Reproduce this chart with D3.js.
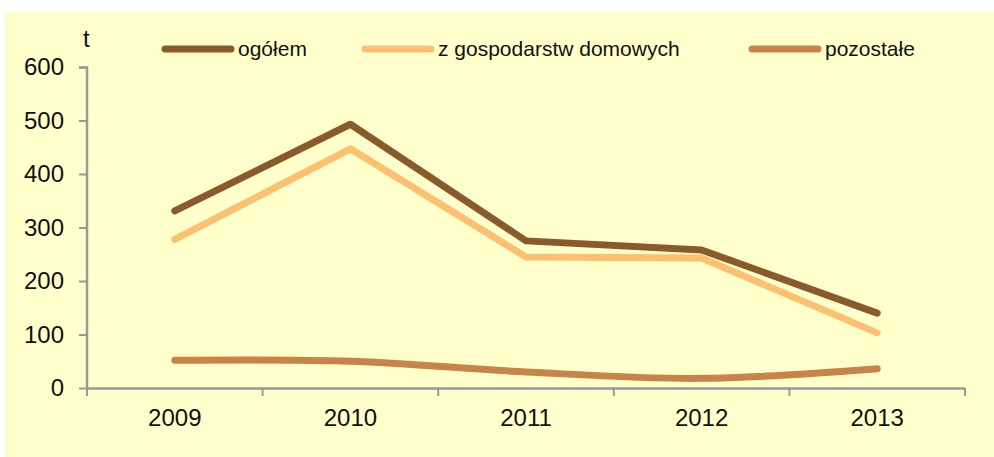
<!DOCTYPE html>
<html>
<head>
<meta charset="utf-8">
<script src="https://cdn.jsdelivr.net/npm/d3@7"></script>
<style>
  body { margin: 0; background: #ffffff; }
  svg text { font-family: "Liberation Sans", Arial, sans-serif; fill: #111; }
</style>
</head>
<body>
<div id="chart"></div>
<script>
var years = ["2009", "2010", "2011", "2012", "2013"];
var ogolem = [331, 493, 275, 258, 140];
var gospodarstwa = [278, 447, 245, 243, 103];
var pozostale = [52, 50, 30, 18, 36];
var yTicks = [0, 100, 200, 300, 400, 500, 600];

var seriesNames = ["ogółem", "z gospodarstw domowych", "pozostałe"];
var seriesColors = ["#8b5a2b", "#fcc170", "#c8834a"];

var width = 994, height = 457;
var margin = { top: 67, right: 29, bottom: 69, left: 87 };
var w = width - margin.left - margin.right;
var h = height - margin.top - margin.bottom;

var svg = d3.select("#chart").append("svg")
    .attr("width", width)
    .attr("height", height);

// tlo wykresu
svg.append("rect")
    .attr("x", 5).attr("y", 12)
    .attr("width", width - 5).attr("height", height - 12)
    .attr("fill", "#ffffcc");

var g = svg.append("g")
    .attr("transform", "translate(" + margin.left + "," + margin.top + ")");

var x = d3.scaleBand().domain(years).range([0, w]);
var y = d3.scaleLinear().domain([0, 600]).range([h, 0]);

// os Y
var yAxis = g.append("g")
    .call(d3.axisLeft(y).tickValues(yTicks).tickSize(8).tickPadding(15));
yAxis.select(".domain").attr("stroke", "#999").attr("stroke-width", 2.5)
    .attr("d", "M-8,0.5H0V" + h);
yAxis.selectAll(".tick line").attr("stroke", "#999").attr("stroke-width", 2);
yAxis.selectAll(".tick text").style("font-size", "24px").attr("fill", "#111");

// os X
var xAxis = g.append("g")
    .attr("transform", "translate(0," + h + ")")
    .call(d3.axisBottom(x).tickSize(0).tickPadding(21));
xAxis.select(".domain").attr("stroke", "#999").attr("stroke-width", 2.5);
xAxis.selectAll(".tick text").style("font-size", "24px").attr("fill", "#111");
g.append("g").selectAll("line")
    .data(years.concat(["end"]))
    .enter().append("line")
    .attr("x1", function(d, i) { return i * x.step(); })
    .attr("x2", function(d, i) { return i * x.step(); })
    .attr("y1", h).attr("y2", h + 8)
    .attr("stroke", "#999").attr("stroke-width", 2);

// jednostka
svg.append("text")
    .attr("x", 83).attr("y", 47)
    .style("font-size", "24px")
    .text("t");

var allSeries = [ogolem, gospodarstwa, pozostale];

var straight = d3.line()
    .x(function(d, i) { return x(years[i]) + x.bandwidth() / 2; })
    .y(function(d) { return y(d); });
var smooth = d3.line()
    .x(function(d, i) { return x(years[i]) + x.bandwidth() / 2; })
    .y(function(d) { return y(d); })
    .curve(d3.curveCatmullRom.alpha(0.5));

g.selectAll(".series")
    .data(allSeries)
    .enter().append("path")
    .attr("class", "series")
    .attr("fill", "none")
    .attr("stroke", function(d, i) { return seriesColors[i]; })
    .attr("stroke-width", 7)
    .attr("stroke-linecap", "round")
    .attr("stroke-linejoin", "round")
    .attr("d", function(d, i) { return i == 2 ? smooth(d) : straight(d); });

// legenda
var legendX = [165, 365, 752];
var legend = svg.selectAll(".legend")
    .data(seriesNames)
    .enter().append("g")
    .attr("class", "legend")
    .attr("transform", function(d, i) { return "translate(" + legendX[i] + ",49)"; });
legend.append("line")
    .attr("x1", 0).attr("x2", 66)
    .attr("stroke", function(d, i) { return seriesColors[i]; })
    .attr("stroke-width", 7)
    .attr("stroke-linecap", "round");
legend.append("text")
    .attr("x", 73).attr("y", 7)
    .style("font-size", "21px")
    .text(function(d) { return d; });
</script>
</body>
</html>
